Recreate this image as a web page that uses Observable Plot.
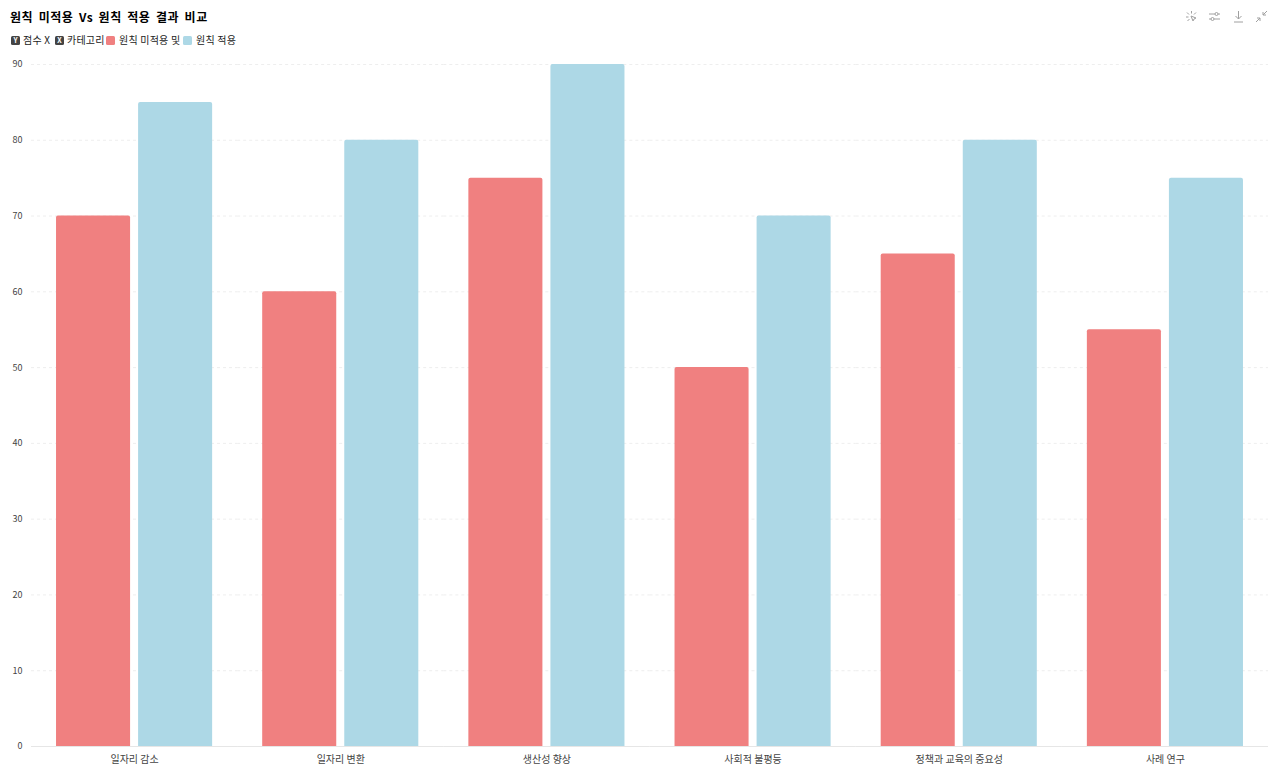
<!DOCTYPE html>
<html><head><meta charset="utf-8">
<script src="https://cdn.jsdelivr.net/npm/d3@7"></script>
<script src="https://cdn.jsdelivr.net/npm/@observablehq/plot@0.6"></script>
<style>
html,body{margin:0;padding:0;background:#fff;overflow:hidden}
body{width:1280px;height:774px;position:relative;font-family:"Noto Sans CJK KR","Noto Sans",sans-serif}
#head{position:relative;height:54px}
#title{position:absolute;left:10px;top:8px;font-size:12px;font-weight:700;line-height:17px;color:#000;letter-spacing:.55px;word-spacing:2.2px;white-space:nowrap}
#legend{position:absolute;left:11px;top:33px;height:14px;font-size:10px;line-height:14px;color:#222;white-space:nowrap;letter-spacing:.2px}
#legend span{position:absolute;top:0}
.k{width:9px;height:9px;top:3px!important;border-radius:1.5px;background:#444;color:#fff;font-size:7px;line-height:9px;text-align:center;font-weight:700;letter-spacing:0}
.s{width:9px;height:9px;top:3px!important;border-radius:1.5px}
#tools{position:absolute;top:10px;left:0}
#tools svg{position:absolute;top:0;width:13px;height:13px;fill:none;stroke:#a0a0a0;stroke-width:1}
svg.plot{display:block}
</style></head><body>
<div id="head">
<div id="title">원칙 미적용 Vs 원칙 적용 결과 비교</div>
<div id="legend"></div>
<div id="tools">
<svg style="left:1185px" viewBox="0 0 13 13"><path d="M6.500 1v2.500M2 2.500l2 2M1 7h2.500M2.500 11l2-2M11 2.500l-2 2M6 6l5 2-2 1-1 2z"/></svg>
<svg style="left:1208px" viewBox="0 0 13 13"><path d="M1 4h6M10 4h2M1 9h2M6 9h6"/><circle cx="8.500" cy="4" r="1.500"/><circle cx="4.500" cy="9" r="1.500"/></svg>
<svg style="left:1232px" viewBox="0 0 13 13"><path d="M6.500 1v8M3.500 6l3 3 3-3M2 12h9"/></svg>
<svg style="left:1255px" viewBox="0 0 13 13"><path d="M12 1L8 5M8 2v3h3M1 12l4-4M2 8h3v3"/></svg>
</div>
</div>
<div id="chart"></div>
<script>
const categories = ["일자리 감소","일자리 변환","생산성 향상","사회적 불평등","정책과 교육의 중요성","사례 연구"];
const seriesNames = ["원칙 미적용 및","원칙 적용"];
const withoutPrinciple = [70,60,75,50,65,55];
const withPrinciple = [85,80,90,70,80,75];
const seriesColors = ["#F08080","#ADD8E6"];
const yTicks = [0,10,20,30,40,50,60,70,80,90];

const rows = categories.flatMap((c,i)=>[
  {category:c, series:seriesNames[0], value:withoutPrinciple[i]},
  {category:c, series:seriesNames[1], value:withPrinciple[i]}
]);

const leg = document.getElementById("legend");
[["k","Y",0],["t","점수 X",12],["k","X",44],["t","카테고리",56],["s",0,95],["t",seriesNames[0],108],["s",1,172],["t",seriesNames[1],185]].forEach(([t,v,x])=>{
  const e=document.createElement("span");
  e.style.left=x+"px";
  if(t==="s"){e.className="s";e.style.background=seriesColors[v];}
  else{ if(t==="k")e.className="k"; e.textContent=v;}
  leg.appendChild(e);
});

const chart = Plot.plot({
  width:1280, height:720,
  marginTop:10, marginBottom:28, marginLeft:31, marginRight:12,
  style:{fontFamily:'"Noto Sans CJK KR","Noto Sans",sans-serif',fontSize:"9px",background:"#fff"},
  fx:{domain:categories,padding:0,round:false,label:null},
  x:{domain:seriesNames,axis:null,round:false,paddingInner:0.0976,paddingOuter:0.305},
  y:{domain:[0,90],label:null},
  color:{domain:seriesNames,range:seriesColors},
  marks:[
    Plot.gridY(yTicks,{stroke:"#eeeeee",strokeOpacity:1,strokeDasharray:"3 3"}),
    Plot.barY(rows,{fx:"category",x:"series",y:"value",fill:"series",rx1y1:2,rx2y1:2}),
    Plot.ruleY([0],{stroke:"#e6e6e6"}),
    Plot.ruleX([0],{frameAnchor:"left",stroke:"#eee",strokeWidth:1}),
    Plot.axisY({ticks:yTicks,tickSize:0,tickPadding:9,color:"#444",fontSize:9,label:null}),
    Plot.axisFx({anchor:"bottom",tickSize:0,tickPadding:9,color:"#444",fontSize:10,label:null})
  ]
});
document.getElementById("chart").appendChild(chart);
</script>
</body></html>
